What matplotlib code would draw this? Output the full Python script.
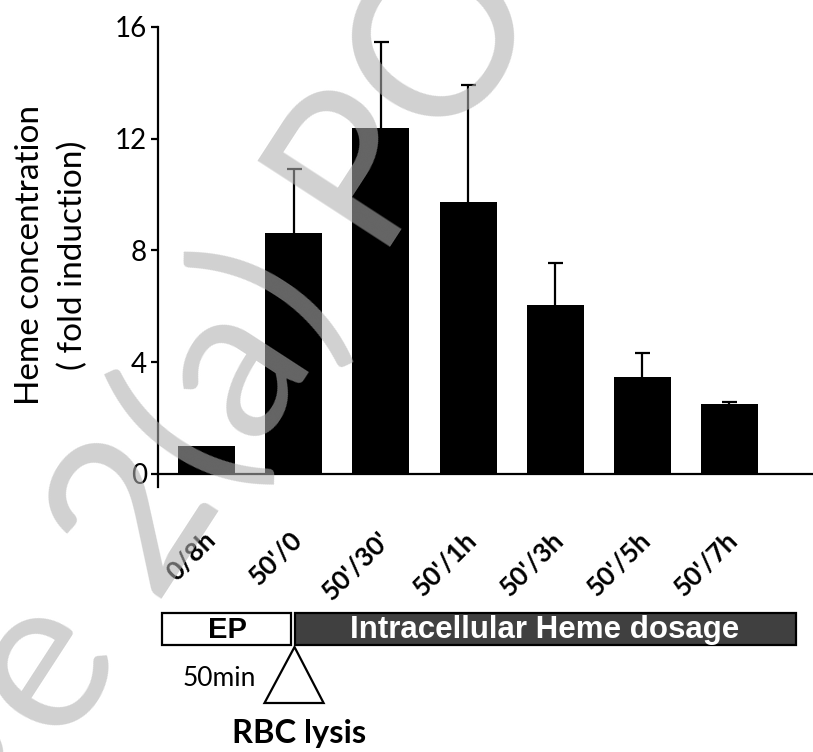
import numpy as np
import matplotlib
matplotlib.use("Agg")
import matplotlib.pyplot as plt
from matplotlib.patches import Rectangle, Polygon
from matplotlib.transforms import ScaledTranslation

# данные
labels = ["0/8h", "50'/0", "50'/30'", "50'/1h", "50'/3h", "50'/5h", "50'/7h"]
heme = [1.0, 8.63, 12.38, 9.73, 6.05, 3.47, 2.5]
heme_err = [np.nan, 2.29, 3.08, 4.19, 1.5, 0.86, 0.08]   # у первого столбца планки нет
yticks = [0, 4, 8, 12, 16]

plt.rcParams['font.family'] = ['Lato', 'DejaVu Sans']

fig = plt.figure(figsize=(8.13, 7.52), dpi=100)
ax = fig.add_axes([0.1943, 0.3524, 0.8057, 0.6117])

x = np.arange(len(heme))
bars = ax.bar(x, heme, width=0.655, color='black',
              yerr=[np.zeros(len(heme)), heme_err],
              error_kw=dict(ecolor='black', elinewidth=1.6, capsize=5.4, capthick=1.6))
# только верхние планки
for cl in bars.errorbar.lines[1]:
    if np.allclose(cl.get_ydata(), heme):
        cl.set_visible(False)

ax.set_xlim(-0.56, 6.96)
ax.set_ylim(-0.47, 16)
for s in ['top', 'right']:
    ax.spines[s].set_visible(False)
ax.spines['bottom'].set_position(('data', 0))
ax.spines['bottom'].set_linewidth(1.6)
ax.spines['left'].set_linewidth(1.6)

ax.set_yticks(yticks)
ax.tick_params(axis='y', direction='out', length=5, width=1.6, labelsize=20, pad=3)
ax.set_xticks(x, labels, rotation=45, ha='right', va='center',
              rotation_mode='anchor', fontweight='bold', fontsize=19)
ax.tick_params(axis='x', length=0, pad=0)
off = ScaledTranslation(0.05, -0.62, fig.dpi_scale_trans)
for lab in ax.get_xticklabels():
    lab.set_transform(lab.get_transform() + off)

ax.set_ylabel("Heme concentration\n( fold induction)", fontsize=24, linespacing=1.5)
ax.yaxis.set_label_coords(-0.107, 0.504)

# схема эксперимента внизу (в пикселях картинки)
ov = fig.add_axes([0, 0, 1, 1])
ov.set_xlim(0, 813)
ov.set_ylim(752, 0)
ov.axis('off')
ov.add_patch(Rectangle((162, 613), 129, 32, facecolor='white', edgecolor='black', lw=1.6))
ov.add_patch(Rectangle((294.5, 613), 501.5, 32, facecolor='#404040', edgecolor='black', lw=1.6))
ov.text(227, 630, "EP", ha='center', va='center', fontsize=21, fontweight='bold',
        family=['Liberation Sans', 'DejaVu Sans'])
ov.text(545, 630, "Intracellular Heme dosage", ha='center', va='center', fontsize=22.5,
        fontweight='bold', color='white', family=['Liberation Sans', 'DejaVu Sans'])
ov.add_patch(Polygon([(294.5, 647), (264.5, 703), (323.6, 703)], closed=True,
                     facecolor='white', edgecolor='black', lw=1.6))
ov.text(219, 679, "50min", ha='center', va='center', fontsize=19)
ov.text(299, 733, "RBC lysis", ha='center', va='center', fontsize=23.5, fontweight='bold')

# водяной знак: буква P слова POSTER должна встать в точку (387, 263)
wm_text = "Page 2(a) POSTER"
wm_size = 158
wm_angle = 57
r = fig.canvas.get_renderer()
t1 = fig.text(0, 0, "Page 2(a) P", fontsize=wm_size)
t2 = fig.text(0, 0, "P", fontsize=wm_size)
shift = t1.get_window_extent(r).width - t2.get_window_extent(r).width
t1.remove()
t2.remove()
th = np.deg2rad(wm_angle)
px, py = 380 - shift * np.cos(th), (752 - 263) - shift * np.sin(th)
fig.text(px / 813, py / 752, wm_text, rotation=wm_angle, rotation_mode='anchor',
         ha='left', va='baseline', fontsize=wm_size, color=(0.69, 0.69, 0.69), alpha=0.58,
         zorder=5)

fig.savefig("out.png", dpi=100)
